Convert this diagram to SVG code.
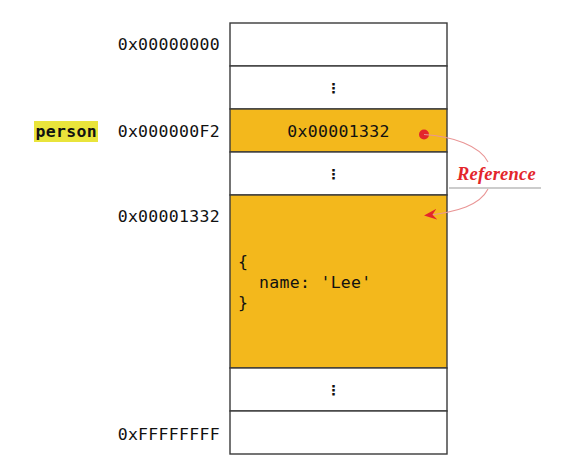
<svg xmlns="http://www.w3.org/2000/svg" width="583" height="469" viewBox="0 0 583 469">
  <style>
    .mono { font-family: "DejaVu Sans Mono", "Liberation Mono", monospace; font-size: 16.5px; letter-spacing: 0.3px; fill: #111; }
    .addr { text-anchor: end; }
    .cell { stroke: #3a3a3a; stroke-width: 1.4; }
    .empty { fill: #ffffff; }
    .filled { fill: #F3B81C; }
    .dots { font-family: "DejaVu Sans", sans-serif; font-size: 14px; font-weight: bold; text-anchor: middle; fill: #111; }
    .ref-curve { fill: none; stroke: #E99595; stroke-width: 1.1; }
  </style>
  <defs>
    <marker id="arrowhead" viewBox="0 0 13 11" refX="12" refY="5.5" markerWidth="13" markerHeight="11" markerUnits="userSpaceOnUse" orient="auto">
      <path d="M0,0 L13,5.5 L0,11 L4.5,5.5 Z" fill="#E3262B"/>
    </marker>
  </defs>

  <rect width="583" height="469" fill="#ffffff"/>

  <!-- memory column -->
  <g id="cell-0">
    <rect class="cell empty" x="230" y="23" width="217" height="43"/>
  </g>
  <g id="cell-gap-1">
    <rect class="cell empty" x="230" y="66" width="217" height="43"/>
    <text class="dots" x="333.5" y="93">⋮</text>
  </g>
  <g id="cell-person">
    <rect class="cell filled" x="230" y="109" width="217" height="43"/>
    <text class="mono" x="338.5" y="137" text-anchor="middle">0x00001332</text>
  </g>
  <g id="cell-gap-2">
    <rect class="cell empty" x="230" y="152" width="217" height="43"/>
    <text class="dots" x="333.5" y="179">⋮</text>
  </g>
  <g id="cell-object">
    <rect class="cell filled" x="230" y="195" width="217" height="173"/>
    <text class="mono" x="238" y="267">{</text>
    <text class="mono" x="259" y="288">name: 'Lee'</text>
    <text class="mono" x="238" y="308">}</text>
  </g>
  <g id="cell-gap-3">
    <rect class="cell empty" x="230" y="368" width="217" height="43"/>
    <text class="dots" x="333.5" y="395">⋮</text>
  </g>
  <g id="cell-last">
    <rect class="cell empty" x="230" y="411" width="217" height="43"/>
  </g>

  <!-- addresses -->
  <g id="addresses">
    <text class="mono addr" x="220" y="50">0x00000000</text>
    <text class="mono addr" x="220" y="137">0x000000F2</text>
    <text class="mono addr" x="220" y="222">0x00001332</text>
    <text class="mono addr" x="220" y="440">0xFFFFFFFF</text>
  </g>

  <!-- variable name -->
  <g id="var-person">
    <rect x="34" y="121" width="64" height="21" fill="#E9E43B"/>
    <text class="mono" x="35.5" y="137" font-weight="bold">person</text>
  </g>

  <!-- reference arrow -->
  <g id="connectors">
    <circle cx="424" cy="134.5" r="5" fill="#E3262B"/>
    <path class="ref-curve" d="M424,134.5 C452,136 480,146 488,162"/>
    <path class="ref-curve" d="M488,189 C480,205 458,212 425,215.5" marker-end="url(#arrowhead)"/>
    <line x1="449" y1="188" x2="541" y2="188" stroke="#9a9a9a" stroke-width="1.2"/>
    <text x="457" y="180" font-family="Liberation Serif, serif" font-style="italic" font-weight="bold" font-size="18.5" fill="#E3262B" letter-spacing="0.2">Reference</text>
  </g>
</svg>
